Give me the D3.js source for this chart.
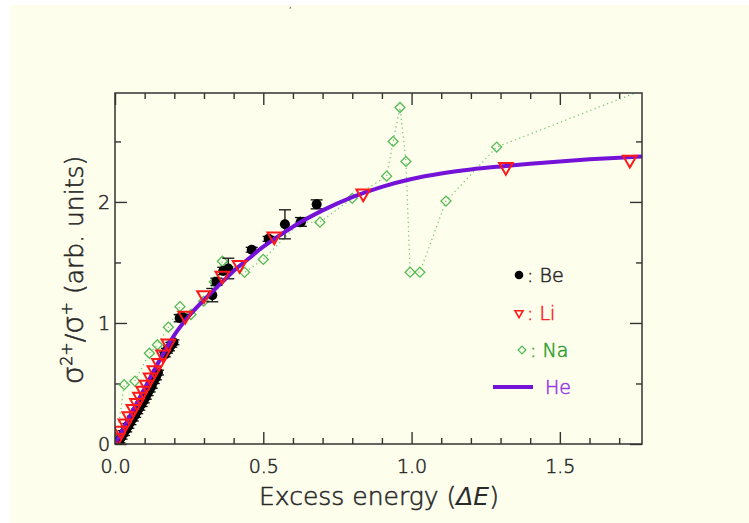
<!DOCTYPE html>
<html><head><meta charset="utf-8">
<script src="https://cdn.jsdelivr.net/npm/d3@7"></script>
<style>html,body{margin:0;padding:0;background:#fff;} svg{display:block}</style>
</head><body>
<svg id="c" width="749" height="523"></svg>
<script>
// ---------- data ----------
const xMajorTicks = [0, 0.5, 1.0, 1.5];
const xMinorTicks = [0.1,0.2,0.3,0.4,0.6,0.7,0.8,0.9,1.1,1.2,1.3,1.4,1.6,1.7];
const yMajorTicks = [0, 1, 2];
const yMinorTicks = [0.5, 1.5, 2.5];

// He (solid line)
const heEnergy = [0,0.05,0.1,0.15,0.2,0.25,0.3,0.35,0.4,0.45,0.5,0.55,0.6,0.7,0.8,0.9,1.0,1.1,1.2,1.3,1.4,1.5,1.6,1.7,1.78];
const heRatio  = [0,0.23,0.46,0.69,0.9,1.06,1.19,1.31,1.43,1.53,1.63,1.715,1.795,1.93,2.04,2.125,2.19,2.235,2.268,2.293,2.315,2.335,2.352,2.366,2.376];

// Be (filled circles with error bars) [E, ratio, error]
const beData = [
  [0.015,0.03,0.02],[0.022,0.06,0.02],[0.030,0.09,0.02],[0.038,0.12,0.02],[0.045,0.15,0.02],
  [0.052,0.18,0.02],[0.060,0.21,0.02],[0.068,0.24,0.02],[0.075,0.27,0.02],[0.082,0.30,0.02],
  [0.090,0.33,0.02],[0.097,0.36,0.02],[0.104,0.39,0.02],[0.110,0.42,0.02],[0.117,0.45,0.02],
  [0.124,0.48,0.02],[0.131,0.52,0.02],[0.138,0.55,0.02],[0.145,0.59,0.02],[0.168,0.74,0.02],
  [0.175,0.77,0.02],[0.182,0.79,0.02],[0.190,0.82,0.02],[0.197,0.84,0.02],[0.218,1.04,0.03],
  [0.227,1.05,0.02],[0.328,1.23,0.055],[0.342,1.34,0.03],[0.365,1.43,0.03],[0.382,1.45,0.085],
  [0.461,1.605,0.02],[0.518,1.695,0.02],[0.573,1.815,0.12],[0.627,1.835,0.036],[0.680,1.98,0.037]
];
// Li (open inverted triangles) [E, ratio]
const liData = [
  [0.009,0.05],[0.020,0.11],[0.035,0.17],[0.048,0.23],[0.062,0.29],[0.074,0.34],[0.084,0.39],
  [0.095,0.44],[0.106,0.49],[0.120,0.55],[0.133,0.61],[0.148,0.67],[0.162,0.74],[0.180,0.83],
  [0.237,1.06],[0.300,1.23],[0.362,1.39],[0.420,1.48],[0.537,1.715],[0.837,2.07],[1.318,2.29],[1.736,2.35]
];
// Na (open diamonds, dotted line) [E, ratio]
const naData = [
  [0.005,0.03],[0.031,0.49],[0.067,0.52],[0.116,0.75],[0.143,0.82],[0.180,0.965],[0.219,1.135],
  [0.256,1.07],[0.299,1.18],[0.335,1.34],[0.362,1.51],[0.437,1.418],[0.500,1.525],[0.625,1.835],
  [0.691,1.833],[0.800,2.03],[0.916,2.213],[0.938,2.50],[0.961,2.78],[0.981,2.335],[0.995,1.42],
  [1.028,1.42],[1.116,2.007],[1.287,2.453],[1.900,3.04]
];
const legendNames = ["Be", "Li", "Na", "He"];
const xTitle = "Excess energy";
// ---------- drawing ----------
const svg = d3.select("#c");
const W = 749, H = 523;
const C = {he:"#7412d8", heText:"#9a3ae6", li:"#ff1a1a", na:"#55bb55", naLine:"#77cc77", naText:"#2f9f2f", be:"#000", text:"#2a2a2a"};
const FONT = "'DejaVu Sans', sans-serif";

function thin(sel, col){
  sel.attr("font-family",FONT).attr("font-weight",300).attr("stroke",col).attr("stroke-width",0.55).attr("fill",col);
}

svg.append("rect").attr("x",10).attr("y",5).attr("width",W-10).attr("height",H-5).attr("fill","#fefeed");
// small glyph remnant of text above the picture
svg.append("text").attr("x",289).attr("y",8).attr("font-family",FONT).attr("font-size",8).attr("fill","#444").text(",");

const x = d3.scaleLinear().domain([0,1.777]).range([115,642]);
const y = d3.scaleLinear().domain([0,2.9]).range([444,93]);

svg.append("defs").append("clipPath").attr("id","clip")
  .append("rect").attr("x",115).attr("y",93).attr("width",527).attr("height",351);

// axes
function styleAxis(g){
  g.select(".domain").remove();
  g.selectAll(".tick line").attr("stroke","#333").attr("stroke-width",1.4);
  g.selectAll("text").attr("font-size",19).call(thin, C.text);
}
svg.append("g").attr("transform","translate(0,444)")
  .call(d3.axisBottom(x).tickValues(xMajorTicks).tickSize(-12).tickPadding(16).tickFormat(d3.format(".1f"))).call(styleAxis);
svg.append("g").attr("transform","translate(0,444)")
  .call(d3.axisBottom(x).tickValues(xMinorTicks).tickSize(-6).tickFormat("")).call(styleAxis);
svg.append("g").attr("transform","translate(0,93)")
  .call(d3.axisTop(x).tickValues(xMajorTicks).tickSize(-12).tickFormat("")).call(styleAxis);
svg.append("g").attr("transform","translate(0,93)")
  .call(d3.axisTop(x).tickValues(xMinorTicks).tickSize(-6).tickFormat("")).call(styleAxis);
svg.append("g").attr("transform","translate(115,0)")
  .call(d3.axisLeft(y).tickValues(yMajorTicks).tickSize(-12).tickPadding(5).tickFormat(d3.format("d"))).call(styleAxis);
svg.append("g").attr("transform","translate(115,0)")
  .call(d3.axisLeft(y).tickValues(yMinorTicks).tickSize(-6).tickFormat("")).call(styleAxis);
svg.append("g").attr("transform","translate(642,0)")
  .call(d3.axisRight(y).tickValues(yMajorTicks).tickSize(-12).tickFormat("")).call(styleAxis);
svg.append("g").attr("transform","translate(642,0)")
  .call(d3.axisRight(y).tickValues(yMinorTicks).tickSize(-6).tickFormat("")).call(styleAxis);

const plot = svg.append("g").attr("clip-path","url(#clip)");

// Na dotted line + diamonds
plot.append("path").datum(naData)
  .attr("d", d3.line().x(d=>x(d[0])).y(d=>y(d[1])))
  .attr("fill","none").attr("stroke",C.naLine).attr("stroke-width",1.3).attr("stroke-dasharray","1.3,3.2");
const diamond = d3.symbol().type(d3.symbolSquare).size(50);
plot.selectAll(".na").data(naData).join("path")
  .attr("d", diamond).attr("transform", d=>`translate(${x(d[0])},${y(d[1])}) rotate(45)`)
  .attr("fill","none").attr("stroke",C.na).attr("stroke-width",1.3);

// Be error bars + dots
const eb = plot.selectAll(".eb").data(beData).join("g");
eb.append("line").attr("x1",d=>x(d[0])).attr("x2",d=>x(d[0])).attr("y1",d=>y(d[1]-d[2])).attr("y2",d=>y(d[1]+d[2]))
  .attr("stroke","#111").attr("stroke-width",1.3);
eb.append("line").attr("x1",d=>x(d[0])-6).attr("x2",d=>x(d[0])+6).attr("y1",d=>y(d[1]-d[2])).attr("y2",d=>y(d[1]-d[2]))
  .attr("stroke","#111").attr("stroke-width",1.3);
eb.append("line").attr("x1",d=>x(d[0])-6).attr("x2",d=>x(d[0])+6).attr("y1",d=>y(d[1]+d[2])).attr("y2",d=>y(d[1]+d[2]))
  .attr("stroke","#111").attr("stroke-width",1.3);
plot.selectAll(".be").data(beData).join("circle")
  .attr("cx",d=>x(d[0])).attr("cy",d=>y(d[1])).attr("r",5).attr("fill",C.be);

// He line
plot.append("path").datum(heEnergy.map((e,i)=>[e,heRatio[i]]))
  .attr("d", d3.line().curve(d3.curveMonotoneX).x(d=>x(d[0])).y(d=>y(d[1])))
  .attr("fill","none").attr("stroke",C.he).attr("stroke-width",4).attr("stroke-linejoin","round");

// Li triangles
const tri = d3.symbol().type(d3.symbolTriangle).size(80);
plot.selectAll(".li").data(liData).join("path")
  .attr("d", tri).attr("transform", d=>`translate(${x(d[0])},${y(d[1])}) rotate(180)`)
  .attr("fill","none").attr("stroke",C.li).attr("stroke-width",2);

// frame
svg.append("rect").attr("x",115).attr("y",93).attr("width",527).attr("height",351)
  .attr("fill","none").attr("stroke","#333").attr("stroke-width",1.5);

// axis titles
const xt = svg.append("text").attr("x",379).attr("y",505).attr("text-anchor","middle")
  .attr("font-size",25).call(thin, C.text);
xt.append("tspan").text(xTitle + " (");
xt.append("tspan").attr("font-style","italic").attr("stroke","none").text("ΔE");
xt.append("tspan").text(")");

const yt = svg.append("text").attr("transform","translate(83,270) rotate(-90)").attr("text-anchor","middle")
  .attr("font-size",25).call(thin, C.text);
yt.append("tspan").attr("font-size",29).text("σ");
yt.append("tspan").attr("font-size",16).attr("dy",-11).text("2+");
yt.append("tspan").attr("dy",11).text("/");
yt.append("tspan").attr("font-size",29).text("σ");
yt.append("tspan").attr("font-size",16).attr("dy",-11).text("+");
yt.append("tspan").attr("dy",11).text(" (arb. units)");

// legend
const lg = svg.append("g").attr("font-size",19);
lg.append("circle").attr("cx",519).attr("cy",275).attr("r",4.3).attr("fill",C.be);
lg.append("text").attr("x",527).attr("y",282).call(thin, C.text).text(": " + legendNames[0]);
lg.append("path").attr("d", d3.symbol().type(d3.symbolTriangle).size(28)).attr("transform","translate(519,313) rotate(180)")
  .attr("fill","none").attr("stroke",C.li).attr("stroke-width",1.6);
lg.append("text").attr("x",527).attr("y",320).call(thin, C.li).text(": " + legendNames[1]);
lg.append("path").attr("d", d3.symbol().type(d3.symbolSquare).size(30)).attr("transform","translate(522,350) rotate(45)")
  .attr("fill","none").attr("stroke",C.na).attr("stroke-width",1.3);
lg.append("text").attr("x",530).attr("y",357).call(thin, C.naText).text(": " + legendNames[2]);
lg.append("line").attr("x1",493).attr("x2",533).attr("y1",387).attr("y2",387).attr("stroke",C.he).attr("stroke-width",4);
lg.append("text").attr("x",545).attr("y",394).call(thin, C.heText).text(legendNames[3]);
</script>
</body></html>
